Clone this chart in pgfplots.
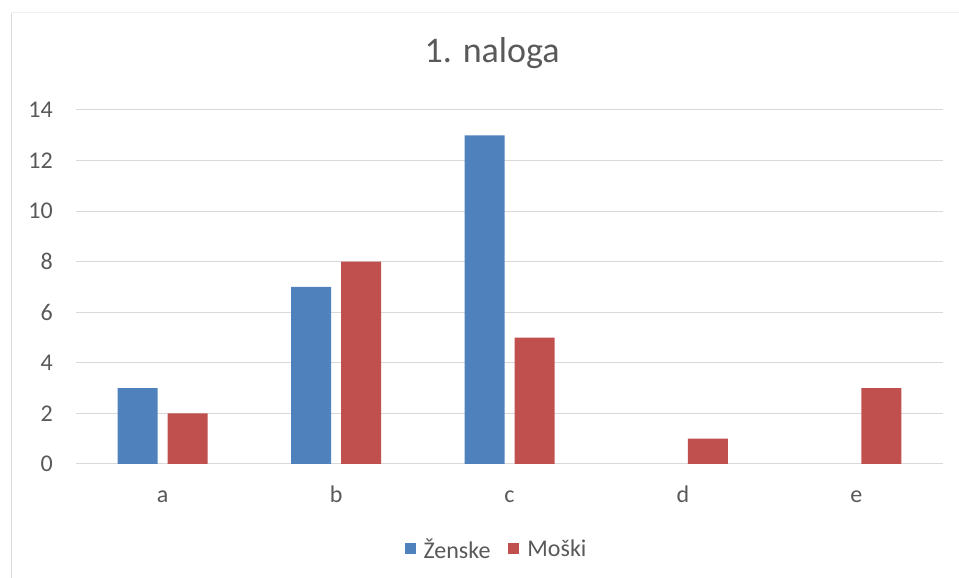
\documentclass[border=0pt]{standalone}
\usepackage{pgfplots}
\pgfplotsset{compat=1.18}
\usepackage{fontspec}
\setmainfont{Carlito}

\definecolor{zblue}{HTML}{4F81BD}
\definecolor{mred}{HTML}{C0504D}
\definecolor{txt}{HTML}{595959}
\definecolor{gridc}{HTML}{D9D9D9}

\begin{document}
\begin{tikzpicture}[x=1bp,y=1bp]
\path[use as bounding box] (0,0) rectangle (959,578);
% chart frame
\draw[gridc, line width=1.5bp] (11.5,0) -- (11.5,566);
\draw[black!6, line width=1bp] (11,565.5) -- (959,565.5);
\begin{axis}[
    at={(76bp,114bp)}, anchor=south west,
    scale only axis,
    width=867bp, height=354bp,
    ybar=10bp, bar width=40bp,
    xmin=-0.5, xmax=4.5,
    ymin=0, ymax=14,
    xtick={0,1,2,3,4},
    xticklabels={a,b,c,d,e},
    ytick={0,2,4,6,8,10,12,14},
    axis line style={draw=none},
    major tick length=0pt,
    ymajorgrids=true,
    grid style={gridc, line width=1bp},
    tick label style={font=\fontsize{24bp}{28bp}\selectfont, text=txt},
    /pgf/number format/assume math mode=true,
    xticklabel style={anchor=base, yshift=-39bp},
    yticklabel style={anchor=east, inner sep=0pt, xshift=-23bp},
    title={1. naloga},
    title style={at={(0.48,1.116)}, anchor=base, font=\fontsize{36bp}{42bp}\selectfont, text=txt},
    legend style={draw=none, at={(0.485,-0.240)}, anchor=center,
        font=\fontsize{24bp}{28bp}\selectfont, text=txt,
        /tikz/every odd column/.append style={column sep=6bp},
        /tikz/every even column/.append style={column sep=16bp}},
    legend columns=2,
]
\addplot[fill=zblue, draw=none,
    legend image code/.code={\fill[zblue] (0bp,-5.5bp) rectangle (11bp,5.5bp);}]
    coordinates {(0,3) (1,7) (2,13)};
\addlegendentry{Ženske}
\addplot[fill=mred, draw=none,
    legend image code/.code={\fill[mred] (0bp,-5.5bp) rectangle (11bp,5.5bp);}]
    coordinates {(0,2) (1,8) (2,5) (3,1) (4,3)};
\addlegendentry{Moški}
\end{axis}
\end{tikzpicture}
\end{document}
